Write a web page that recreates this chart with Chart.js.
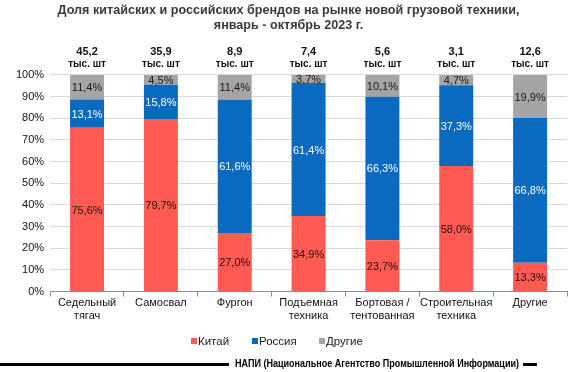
<!DOCTYPE html>
<html>
<head>
<meta charset="utf-8">
<script src="https://cdn.jsdelivr.net/npm/chart.js@4"></script>
<style>
  html, body { margin: 0; padding: 0; background: #fff; }
  #wrap { width: 580px; height: 372px; position: relative; }
</style>
</head>
<body>
<div id="wrap"><canvas id="chart"></canvas></div>
<script>
// категории техники
var categories = [
  ['Седельный', 'тягач'],
  'Самосвал',
  'Фургон',
  ['Подъемная', 'техника'],
  ['Бортовая /', 'тентованная'],
  ['Строительная', 'техника'],
  'Другие'
];
// объем рынка, тыс. шт
var totals = ['45,2', '35,9', '8,9', '7,4', '5,6', '3,1', '12,6'];
// доли, %
var china  = [75.6, 79.7, 27.0, 34.9, 23.7, 58.0, 13.3];
var russia = [13.1, 15.8, 61.6, 61.4, 66.3, 37.3, 66.8];
var other  = [11.4, 4.5, 11.4, 3.7, 10.1, 4.7, 19.9];

var FONT = '"Liberation Sans", Arial, sans-serif';

function fmt(v) {
  return v.toFixed(1).replace('.', ',') + '%';
}

// подписи значений внутри столбцов + объем над столбцами
var labelsPlugin = {
  id: 'labels',
  afterDatasetsDraw: function(chart) {
    var ctx = chart.ctx;
    ctx.save();
    ctx.textAlign = 'center';
    ctx.textBaseline = 'middle';
    ctx.font = '11px ' + FONT;
    chart.data.datasets.forEach(function(ds, i) {
      var meta = chart.getDatasetMeta(i);
      meta.data.forEach(function(bar, j) {
        var top = Math.max(bar.y, chart.chartArea.top);
        var y = (top + bar.base) / 2;
        ctx.fillStyle = ds.labelColor;
        ctx.fillText(fmt(ds.data[j]), bar.x, y + 1);
      });
    });
    var xs = chart.scales.x;
    ctx.fillStyle = '#111';
    for (var k = 0; k < totals.length; k++) {
      var x = xs.getPixelForValue(k);
      ctx.font = 'bold 11px ' + FONT;
      ctx.fillText(totals[k], x, 52);
      ctx.font = 'bold 10px ' + FONT;
      ctx.fillText('тыс. шт', x, 64);
    }
    ctx.restore();
  }
};

// легенда и подпись источника внизу
var bottomPlugin = {
  id: 'bottom',
  afterDraw: function(chart) {
    var ctx = chart.ctx;
    ctx.save();
    // легенда
    ctx.font = '11.5px ' + FONT;
    ctx.textBaseline = 'middle';
    ctx.textAlign = 'left';
    var starts = [191, 252, 319];
    chart.data.datasets.forEach(function(ds, i) {
      var x = starts[i];
      ctx.fillStyle = ds.backgroundColor;
      ctx.fillRect(x, 338, 6, 6);
      ctx.fillStyle = '#222';
      ctx.fillText(ds.label, x + 7, 341.5);
    });
    // источник
    ctx.fillStyle = '#000';
    ctx.fillRect(0, 363, 229, 3);
    ctx.fillRect(523, 363, 14, 3);
    ctx.font = 'bold 10px "Liberation Sans Narrow", ' + FONT;
    var txt = 'НАПИ (Национальное Агентство Промышленной Информации)';
    var w = ctx.measureText(txt).width;
    ctx.translate(235, 364.5);
    ctx.scale(284 / w, 1);
    ctx.fillText(txt, 0, 0);
    ctx.restore();
  }
};

new Chart(document.getElementById('chart'), {
  type: 'bar',
  data: {
    labels: categories,
    datasets: [
      { label: 'Китай', data: china, backgroundColor: '#FF5B52', labelColor: '#2a1010' },
      { label: 'Россия', data: russia, backgroundColor: '#0A6AC0', labelColor: '#ffffff' },
      { label: 'Другие', data: other, backgroundColor: '#A5A5A5', labelColor: '#1a1a1a' }
    ]
  },
  options: {
    responsive: true,
    maintainAspectRatio: false,
    animation: false,
    categoryPercentage: 1,
    barPercentage: 0.46,
    layout: { padding: { left: 10, right: 13, top: 0, bottom: 49 } },
    plugins: {
      title: {
        display: true,
        text: ['Доля китайских и российских брендов на рынке новой грузовой техники,', 'январь - октябрь 2023 г.'],
        color: '#3a3a3a',
        font: { family: FONT, size: 12.6, weight: 'bold', lineHeight: 1.19 },
        padding: { top: 3, bottom: 42 }
      },
      legend: { display: false },
      tooltip: { enabled: false }
    },
    scales: {
      x: {
        stacked: true,
        grid: { display: true, drawOnChartArea: false, offset: true, tickLength: 5, color: '#8c8c8c' },
        border: { display: true, color: '#8c8c8c' },
        ticks: { color: '#111', font: { family: FONT, size: 11, lineHeight: 1.2 }, maxRotation: 0, autoSkip: false, padding: 0 }
      },
      y: {
        stacked: true,
        min: 0,
        max: 100,
        grid: { color: '#d9d9d9', drawTicks: false },
        border: { display: false },
        ticks: {
          stepSize: 10,
          padding: 6,
          color: '#111',
          font: { family: FONT, size: 11 },
          callback: function(v) { return v + '%'; }
        }
      }
    }
  },
  plugins: [labelsPlugin, bottomPlugin]
});
</script>
</body>
</html>
